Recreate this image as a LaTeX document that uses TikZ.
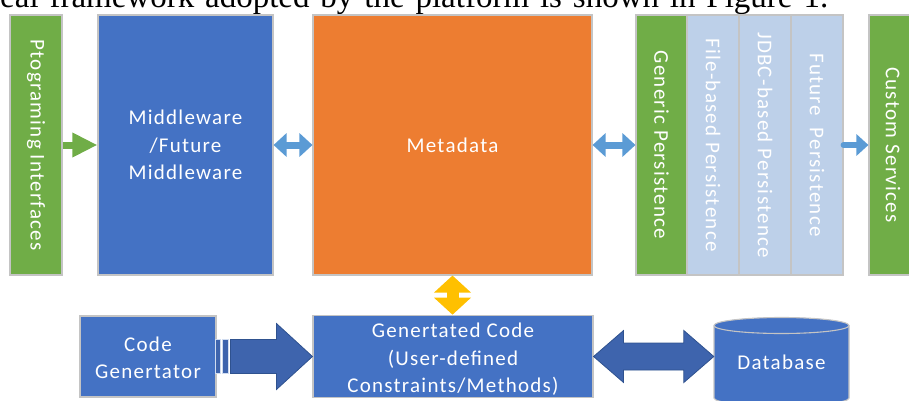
\documentclass[tikz,border=0pt]{standalone}
\usepackage{fontspec}
\usepackage{graphicx}
\setmainfont{Carlito}[LetterSpace=6]
\newfontfamily\serifbody{Liberation Serif}
\usetikzlibrary{arrows.meta,calc}

\definecolor{cgreen}{HTML}{70AD47}
\definecolor{cblue}{HTML}{4472C4}
\definecolor{corange}{HTML}{ED7D31}
\definecolor{cpale}{HTML}{BDD0E9}
\definecolor{cline}{HTML}{5B9BD5}
\definecolor{cyellow}{HTML}{FFC000}
\definecolor{boxline}{HTML}{C4C4C4}
\definecolor{bigfill}{HTML}{3E64AD}
\definecolor{bigline}{HTML}{2F528F}

\newcommand\diagfont{\fontsize{21}{27.5}\selectfont}
\newcommand\paratextfont{\serifbody\fontsize{33}{38}\selectfont}
% centred multi-line text, lowered by #1 without changing its box
\newcommand\lowlines[2]{\raisebox{-#1}[\height][\depth]{\begin{tabular}{@{}c@{}}#2\end{tabular}}}

\tikzset{
  block/.style={draw=boxline, line width=1.1pt, inner sep=0pt, text=white,
    font=\diagfont, align=center},
  tallblock/.style={block, minimum height=260pt},
  thinlink/.style={draw=cline, line width=7pt},
  bigarrow/.style={fill=bigfill, draw=bigline, line width=0.8pt, line join=miter},
}

\begin{document}
\begin{tikzpicture}[x=1pt,y=-1pt]
\useasboundingbox (0,0) rectangle (909,401);
\clip (0,0) rectangle (909,401);

% line of body text above the figure
\node[anchor=base west, inner sep=0pt, font=\paratextfont] (para) at (0,8)
  {\makebox[828pt][s]{eal framework adopted by the platform is shown in Figure 1.}};

% upper row of blocks
\node[tallblock, fill=cgreen, minimum width=52pt] (pi) at (36,145)
  {\rotatebox{-90}{Ptograming Interfaces}};
\node[tallblock, fill=cblue, minimum width=175pt] (mw) at (185.5,145)
  {Middleware\\/Future\\Middleware};
\node[tallblock, fill=corange, minimum width=279pt] (meta) at (452.5,145) {Metadata};
\node[tallblock, fill=cpale, minimum width=52pt] (fb) at (713,145)
  {\rotatebox{-90}{File-based Persistence}};
\node[tallblock, fill=cpale, minimum width=52pt] (jdbc) at (765,145)
  {\rotatebox{-90}{JDBC-based Persistence}};
\node[tallblock, fill=cpale, minimum width=52pt] (fut) at (817,145)
  {\rotatebox{-90}{Future\ \ Persistence}};
\node[tallblock, fill=cgreen, minimum width=51pt] (gp) at (661.5,145)
  {\rotatebox{-90}{Generic Persistence}};
\node[tallblock, fill=cgreen, minimum width=48pt] (cs) at (893,145)
  {\rotatebox{-90}{Custom Services}};

% lower row
\node[block, fill=cblue, minimum width=136pt, minimum height=81pt] (cg) at (148,356.5)
  {\lowlines{3pt}{Code\\Genertator}};
\node[block, fill=cblue, minimum width=280pt, minimum height=81pt] (gc) at (453,356.5)
  {\lowlines{3pt}{Genertated Code\\(User-defined\\Constraints/Methods)}};

% database cylinder
\filldraw[fill=cblue, draw=boxline, line width=1.1pt]
  (714,325.5) -- (714,398) arc[start angle=180, end angle=360, x radius=67.5pt, y radius=8pt]
  -- (849,325.5) arc[start angle=0, end angle=180, x radius=67.5pt, y radius=8pt] -- cycle;
\draw[draw=boxline, line width=1.1pt]
  (714,325.5) arc[start angle=180, end angle=360, x radius=67.5pt, y radius=8pt];
\node[font=\diagfont, text=white, inner sep=0pt, minimum width=135pt] (db) at (781.5,362) {Database};

% connectors of the upper row
\draw[draw=cgreen, line width=7pt, -{Triangle[length=25pt,width=23pt]}] (pi.east) -- (mw.west);
\draw[thinlink, {Triangle[length=13pt,width=23pt]}-{Triangle[length=13pt,width=23pt]}]
  (mw.east) -- (meta.west);
\draw[thinlink, {Triangle[length=13pt,width=23pt]}-{Triangle[length=13pt,width=23pt]}]
  (meta.east) -- (gp.west);
\draw[draw=cline, line width=6pt, line cap=round, -{Triangle[length=12pt,width=21pt]}]
  (fut.east) -- (cs.west);

% metadata <-> generated code
\draw[draw=cyellow, line width=12pt, {Triangle[length=17pt,width=36pt]}-{Triangle[length=17pt,width=36pt]}]
  (meta.south) -- (meta.south |- gc.north);

% striped block arrow: code generator -> generated code
\path (cg.east) coordinate (s0) (gc.west) coordinate (t0);
\filldraw[bigarrow, draw=white!75!cblue] ($(s0)+(-1,-17)$) rectangle ($(s0)+(4,17)$);
\filldraw[bigarrow, draw=white!75!cblue] ($(s0)+(6,-17)$) rectangle ($(s0)+(12,17)$);
\filldraw[bigarrow]
  ($(s0)+(14,-17)$) -- ($(t0)+(-36,-17)$) -- ($(t0)+(-36,-33)$) -- (t0)
  -- ($(t0)+(-36,33)$) -- ($(t0)+(-36,17)$) -- ($(s0)+(14,17)$) -- cycle;

% double block arrow: generated code <-> database
\path (gc.east) coordinate (u0) (db.west |- gc.east) coordinate (u1);
\filldraw[bigarrow]
  (u0) -- ($(u0)+(30,-26)$) -- ($(u0)+(30,-13.5)$) -- ($(u1)+(-30,-13.5)$)
  -- ($(u1)+(-30,-26)$) -- (u1) -- ($(u1)+(-30,26)$) -- ($(u1)+(-30,13.5)$)
  -- ($(u0)+(30,13.5)$) -- ($(u0)+(30,26)$) -- cycle;
\end{tikzpicture}
\end{document}
